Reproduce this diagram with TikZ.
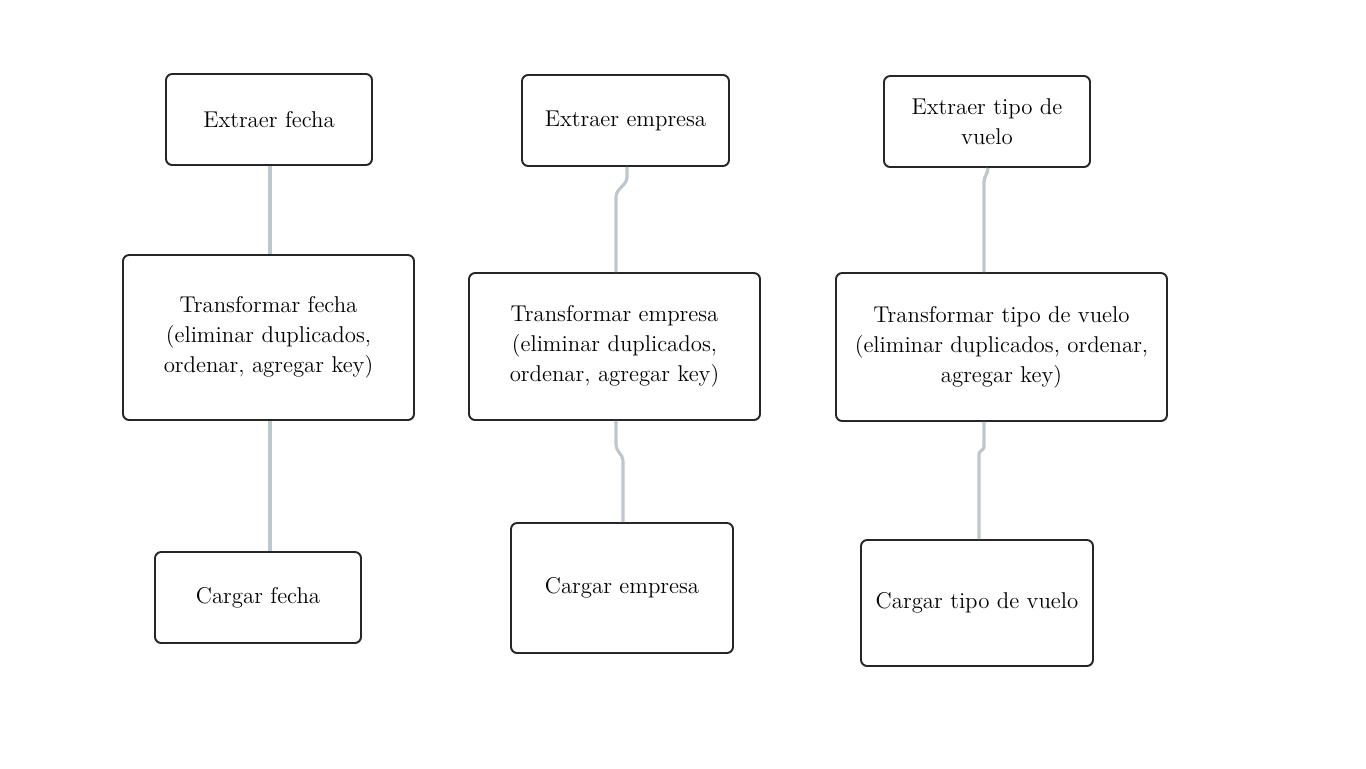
\documentclass[tikz,border=0pt]{standalone}
\usepackage{tikz}
\definecolor{linkgris}{RGB}{188,199,206}
\begin{document}
\begin{tikzpicture}[x=0.02cm, y=-0.02cm,
		paso/.style={draw=black!85, line width=1.1pt, rounded corners=3.5pt, align=center,
			font=\fontsize{13}{17}\selectfont, inner sep=0pt},
		link/.style={draw=linkgris, line width=1.8pt}]
			%%%%% START %%%%%
			
			\useasboundingbox (0, 0) rectangle (1366, 768);
			
			\node[paso, minimum width=206*0.02cm, minimum height=91*0.02cm] (extfecha) at (269, 119.5) {Extraer fecha};
			\node[paso, minimum width=291*0.02cm, minimum height=165*0.02cm] (trafecha) at (268.5, 337.5) {Transformar fecha\\(eliminar duplicados,\\ordenar, agregar key)};
			\node[paso, minimum width=206*0.02cm, minimum height=91*0.02cm] (carfecha) at (258, 597.5) {Cargar fecha};
			
			\node[paso, minimum width=207*0.02cm, minimum height=91*0.02cm] (extempresa) at (625.5, 120.5) {Extraer empresa};
			\node[paso, minimum width=291*0.02cm, minimum height=147*0.02cm] (traempresa) at (614.5, 346.5) {Transformar empresa\\(eliminar duplicados,\\ordenar, agregar key)};
			\node[paso, minimum width=222*0.02cm, minimum height=130*0.02cm] (carempresa) at (622, 588) {Cargar empresa};
			
			\node[paso, minimum width=206*0.02cm, minimum height=91*0.02cm] (extvuelo) at (987, 121.5) {Extraer tipo de\\vuelo};
			\node[paso, minimum width=331*0.02cm, minimum height=148*0.02cm] (travuelo) at (1001.5, 347) {Transformar tipo de vuelo\\(eliminar duplicados, ordenar,\\agregar key)};
			\node[paso, minimum width=232*0.02cm, minimum height=126*0.02cm] (carvuelo) at (977, 603) {Cargar tipo de vuelo};
			
			\draw[link] (extfecha.south) ++(1, 0) coordinate (a1) -- (a1 |- trafecha.north);
			\draw[link] (trafecha.south) ++(1.5, 0) coordinate (a2) -- (a2 |- carfecha.north);
			
			\draw[link] (extempresa.south) ++(1.5, 0) -- ++(0, 10) to[out=-90, in=90] ++(-11, 20) coordinate (b1) -- (b1 |- traempresa.north);
			\draw[link] (traempresa.south) ++(1.5, 0) -- ++(0, 24) to[out=-90, in=90] ++(7, 16) coordinate (b2) -- (b2 |- carempresa.north);
			
			\draw[link] (extvuelo.south) ++(1, 0) to[out=-90, in=90] ++(-4, 14) coordinate (c1) -- (c1 |- travuelo.north);
			\draw[link] (travuelo.south) ++(-17.5, 0) -- ++(0, 25) to[out=-90, in=90] ++(-5, 7) coordinate (c2) -- (c2 |- carvuelo.north);
			
			%%%%% END %%%%%
\end{tikzpicture}
\end{document}
